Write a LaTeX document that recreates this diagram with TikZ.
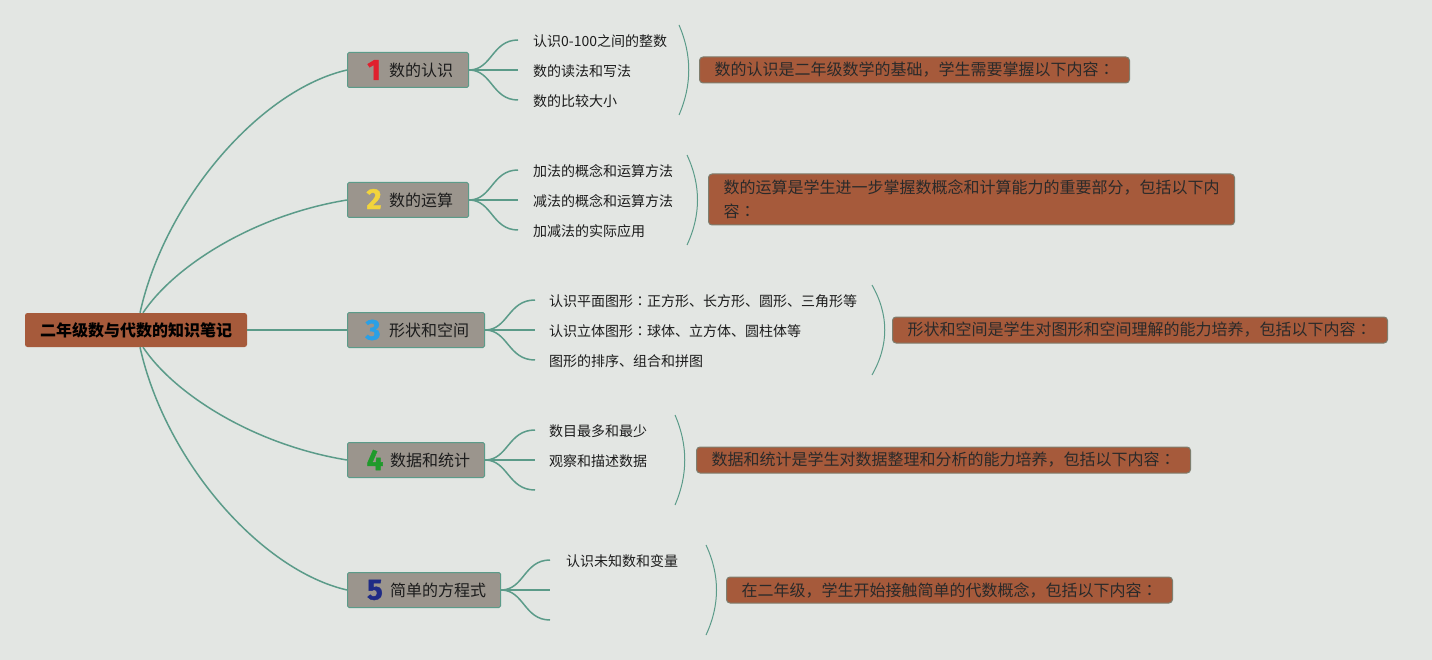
\documentclass[tikz,border=0pt]{standalone}
\usepackage{fontspec}
\setmainfont{Noto Sans CJK SC}
\newfontfamily\jpfont{Noto Sans CJK JP}
\newfontfamily\numfont[BoldFeatures={FakeBold=1.5}]{Fira Sans}
\newcommand{\cco}{{\jpfont ：}}
\definecolor{bgc}{HTML}{E3E6E3}
\definecolor{rootc}{HTML}{A65A3B}
\definecolor{grayc}{HTML}{9B958D}
\definecolor{tealc}{HTML}{5B9B89}
\definecolor{sumb}{HTML}{7F7E6E}
\definecolor{txtc}{HTML}{1C1C1C}
\definecolor{txtd}{HTML}{2A2A2A}
\definecolor{nred}{HTML}{E0202E}
\definecolor{nyel}{HTML}{F2D43C}
\definecolor{nblu}{HTML}{2AA0E6}
\definecolor{ngrn}{HTML}{1F9A2B}
\definecolor{nnav}{HTML}{1F2B86}
\begin{document}
\begin{tikzpicture}[x=1pt,y=-1pt,
 conn/.style={draw=tealc, line width=1.5pt},
 bracearc/.style={draw=tealc, line width=1pt},
 rootbox/.style={fill=rootc, rounded corners=2.5pt, minimum width=222pt, minimum height=34pt, inner sep=0pt, font=\fontsize{16}{16}\selectfont\bfseries, text=black},
 branchbox/.style={fill=grayc, draw=tealc, line width=1pt, rounded corners=1.5pt, minimum height=35pt, inner sep=0pt, anchor=west},
 numlab/.style={font=\numfont\bfseries\fontsize{29}{29}\selectfont, inner sep=0pt},
 brlab/.style={font=\fontsize{16}{16}\selectfont, text=txtc, inner sep=0pt, anchor=west},
 kid/.style={font=\fontsize{14}{14}\selectfont, text=txtc, inner sep=0pt, anchor=west},
 summ/.style={fill=rootc, draw=sumb, line width=1pt, rounded corners=3.5pt, inner xsep=15pt, inner ysep=0pt, anchor=west, align=left, font=\fontsize{16}{24}\selectfont, text=txtd},
]
\fill[bgc] (0,0) rectangle (1432,660);
\useasboundingbox (0,0) rectangle (1432,660);

% root
\node[rootbox] (r) at (136,330) {二年级数与代数的知识笔记};

% branches
\node[branchbox, minimum width=121pt] (b1) at (347,70) {};
\node[numlab, text=nred] (n1) at (374,70) {1};
\node[brlab] (t1) at (389,70) {数的认识};

\node[branchbox, minimum width=121pt] (b2) at (347,200) {};
\node[numlab, text=nyel] (n2) at (374,199) {2};
\node[brlab] (t2) at (389,200) {数的运算};

\node[branchbox, minimum width=137pt] (b3) at (347,330) {};
\node[numlab, text=nblu] (n3) at (373,330) {3};
\node[brlab] (t3) at (389,330) {形状和空间};

\node[branchbox, minimum width=137pt] (b4) at (347,460) {};
\node[numlab, text=ngrn] (n4) at (375,460) {4};
\node[brlab] (t4) at (390,460) {数据和统计};

\node[branchbox, minimum width=153pt] (b5) at (347,590) {};
\node[numlab, text=nnav] (n5) at (375,590) {5};
\node[brlab] (t5) at (390,590) {简单的方程式};

% root connectors
\draw[conn] ([xshift=4pt]r.north) .. controls (165,200) and (260,90) .. (b1.west);
\draw[conn] ([xshift=7pt]r.north) .. controls (175,265) and (255,215) .. (b2.west);
\draw[conn] (r.east) -- (b3.west);
\draw[conn] ([xshift=7pt]r.south) .. controls (175,395) and (255,445) .. (b4.west);
\draw[conn] ([xshift=4pt]r.south) .. controls (165,460) and (260,570) .. (b5.west);

% children of 1
\node[kid] (k11) at (533,41) {认识0-100之间的整数};
\node[kid] (k12) at (533,71) {数的读法和写法};
\node[kid] (k13) at (533,101) {数的比较大小};
\coordinate (e11) at (518,40);
\coordinate (e12) at (518,70);
\coordinate (e13) at (518,100);
\draw[conn] (b1.east) .. controls (492,70) and (492,40) .. (e11);
\draw[conn] (b1.east) -- (e12);
\draw[conn] (b1.east) .. controls (492,70) and (492,100) .. (e13);

% children of 2
\node[kid] (k21) at (533,171) {加法的概念和运算方法};
\node[kid] (k22) at (533,201) {减法的概念和运算方法};
\node[kid] (k23) at (533,231) {加减法的实际应用};
\coordinate (e21) at (518,170);
\coordinate (e22) at (518,200);
\coordinate (e23) at (518,230);
\draw[conn] (b2.east) .. controls (492,200) and (492,170) .. (e21);
\draw[conn] (b2.east) -- (e22);
\draw[conn] (b2.east) .. controls (492,200) and (492,230) .. (e23);

% children of 3
\node[kid] (k31) at (549,301) {认识平面图形\cco 正方形、长方形、圆形、三角形等};
\node[kid] (k32) at (549,331) {认识立体图形\cco 球体、立方体、圆柱体等};
\node[kid] (k33) at (549,361) {图形的排序、组合和拼图};
\coordinate (e31) at (535,300);
\coordinate (e32) at (535,330);
\coordinate (e33) at (535,360);
\draw[conn] (b3.east) .. controls (508,330) and (508,300) .. (e31);
\draw[conn] (b3.east) -- (e32);
\draw[conn] (b3.east) .. controls (508,330) and (508,360) .. (e33);

% children of 4
\node[kid] (k41) at (549,431) {数目最多和最少};
\node[kid] (k42) at (549,461) {观察和描述数据};
\coordinate (e41) at (535,430);
\coordinate (e42) at (535,460);
\coordinate (e43) at (535,490);
\draw[conn] (b4.east) .. controls (508,460) and (508,430) .. (e41);
\draw[conn] (b4.east) -- (e42);
\draw[conn] (b4.east) .. controls (508,460) and (508,490) .. (e43);

% children of 5
\node[kid] (k51) at (566,561) {认识未知数和变量};
\coordinate (e51) at (550,560);
\coordinate (e52) at (550,590);
\coordinate (e53) at (550,620);
\draw[conn] (b5.east) .. controls (524,590) and (524,560) .. (e51);
\draw[conn] (b5.east) -- (e52);
\draw[conn] (b5.east) .. controls (524,590) and (524,620) .. (e53);

% brace arcs
\draw[bracearc] (679,25) .. controls (692,55) and (692,85) .. (679,115);
\draw[bracearc] (687,155) .. controls (701,185) and (701,215) .. (687,245);
\draw[bracearc] (872,285) .. controls (889,315) and (889,345) .. (872,375);
\draw[bracearc] (675,415) .. controls (688,445) and (688,475) .. (675,505);
\draw[bracearc] (706,545) .. controls (720,575) and (720,605) .. (706,635);

% summaries
\node[summ, minimum height=26pt] (s1) at (699,70) {\makebox[400pt][l]{数的认识是二年级数学的基础，学生需要掌握以下内容\cco}};
\node[summ, minimum height=51pt] (s2) at (708,199.5) {\makebox[496pt][l]{数的运算是学生进一步掌握数概念和计算能力的重要部分，包括以下内}\\\makebox[496pt][l]{容\cco}};
\node[summ, minimum height=26pt] (s3) at (892,330) {\makebox[465pt][l]{形状和空间是学生对图形和空间理解的能力培养，包括以下内容\cco}};
\node[summ, minimum height=26pt] (s4) at (696,460) {\makebox[464pt][l]{数据和统计是学生对数据整理和分析的能力培养，包括以下内容\cco}};
\node[summ, minimum height=26pt] (s5) at (726,590) {\makebox[416pt][l]{在二年级，学生开始接触简单的代数概念，包括以下内容\cco}};
\end{tikzpicture}
\end{document}
